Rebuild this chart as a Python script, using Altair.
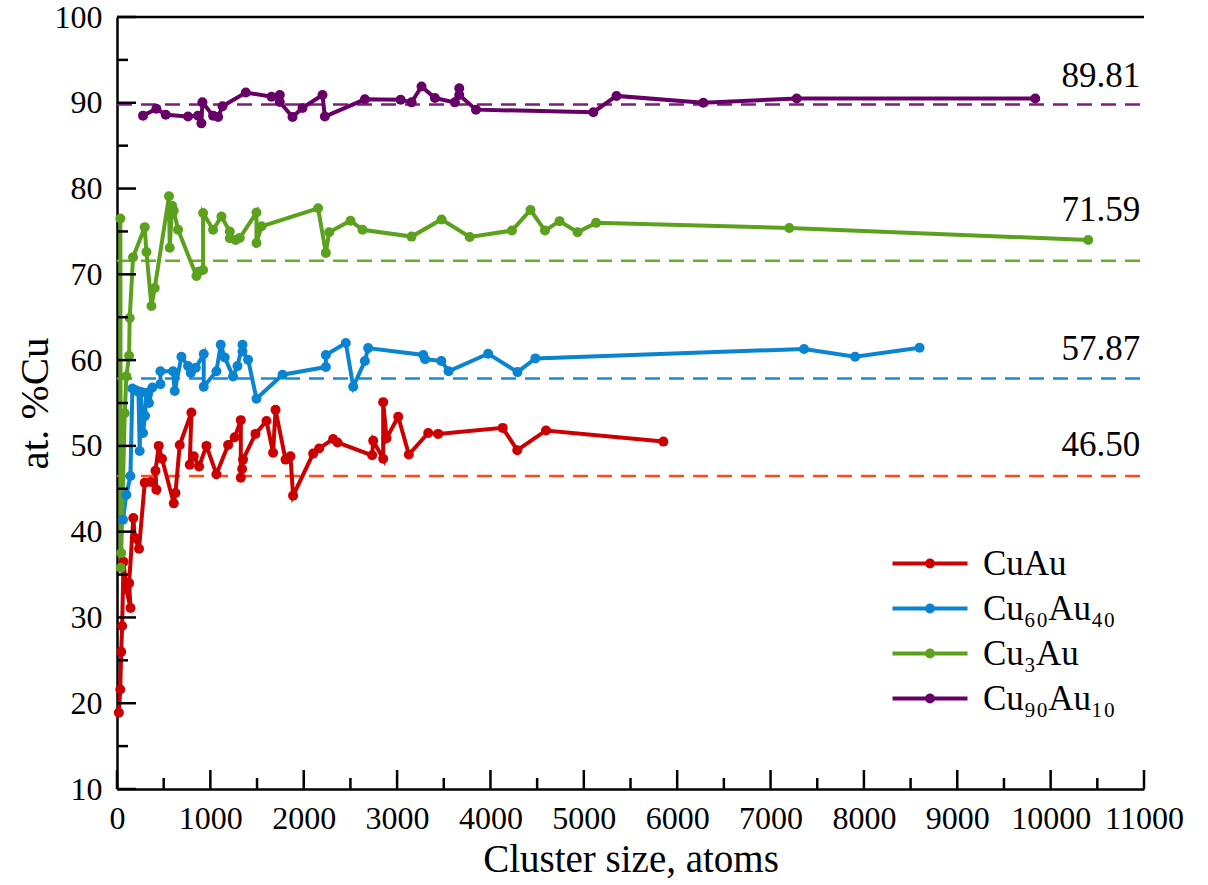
import altair as alt
import pandas as pd

W, H = 1027, 772
FONT = "Liberation Serif"

series_names = ["CuAu", "Cu₆₀Au₄₀", "Cu₃Au", "Cu₉₀Au₁₀"]
colors = ["#cc0000", "#0a84d0", "#5ba11e", "#660066"]
dash_colors = ["#ff4a1a", "#1a8ad6", "#66ad28", "#7a1f7a"]
mean_values = [46.50, 57.87, 71.59, 89.81]
mean_labels = ["46.50", "57.87", "71.59", "89.81"]
label_shift = [-31, -29, -51, -28]

cuau_x = [20, 35, 45, 55, 70, 100, 145, 130, 175, 190, 236, 297, 361, 422, 412,
          447, 482, 608, 626, 672, 797, 779, 822, 879, 958, 1065, 1190, 1261, 1326,
          1326, 1340, 1350, 1483, 1601, 1672, 1698, 1805, 1858, 1886, 2101, 2165,
          2315, 2362, 2733, 2744, 2851, 2851, 2887, 3012, 3126, 3333, 3440, 4131,
          4287, 4595, 5852]
cuau_y = [18.9, 21.6, 26.0, 29.0, 36.5, 33.3, 31.1, 34.0, 41.6, 39.3, 38.0, 45.7,
          45.8, 44.9, 47.1, 50.0, 48.5, 43.3, 44.5, 50.1, 53.9, 47.8, 48.8, 47.6,
          50.0, 46.7, 50.1, 51.0, 53.0, 46.3, 47.3, 48.4, 51.4, 52.9, 49.2, 54.2,
          48.4, 48.8, 44.2, 49.1, 49.7, 50.8, 50.4, 48.9, 50.6, 48.5, 55.1, 50.9,
          53.4, 49.0, 51.5, 51.4, 52.1, 49.5, 51.8, 50.5]

cu60_x = [64, 100, 144, 165, 200, 230, 243, 255, 279, 300, 315, 343, 379, 465, 465,
          600, 618, 690, 761, 790, 844, 929, 929, 1065, 1111, 1154, 1243, 1290, 1344,
          1344, 1404, 1494, 1773, 2237, 2237, 2451, 2530, 2655, 2690, 3280, 3300,
          3474, 3551, 3975, 4289, 4481, 7359, 7906, 8596]
cu60_y = [41.4, 44.3, 46.5, 56.7, 56.5, 56.3, 49.4, 56.3, 51.5, 53.5, 56.2, 55.0,
          56.8, 57.2, 58.7, 58.7, 56.4, 60.4, 59.3, 58.5, 59.1, 60.7, 56.9, 58.7,
          61.8, 60.3, 58.1, 59.3, 61.8, 61.0, 60.05, 55.5, 58.3, 59.2, 60.6, 62.0,
          56.9, 59.9, 61.4, 60.6, 60.1, 59.9, 58.7, 60.75, 58.6, 60.2, 61.3, 60.4,
          61.45]

cu3_x = [36, 40, 45, 83, 100, 129, 136, 172, 297, 315, 369, 404, 557, 565, 590, 608,
         654, 851, 870, 922, 922, 1029, 1119, 1208, 1208, 1272, 1315, 1494, 1494,
         1548, 2154, 2237, 2272, 2501, 2630, 3155, 3476, 3778, 4230, 4429, 4584,
         4740, 4933, 5131, 7201, 10402]
cu3_y = [76.5, 35.8, 37.5, 53.8, 58.1, 60.5, 64.9, 72.0, 75.5, 72.6, 66.3, 68.4,
         79.1, 73.1, 78.0, 77.4, 75.2, 69.8, 70.3, 70.5, 77.15, 75.2, 76.75, 75.0,
         74.2, 74.0, 74.25, 77.2, 73.65, 75.6, 77.7, 72.5, 74.9, 76.25, 75.2, 74.4,
         76.4, 74.35, 75.1, 77.5, 75.1, 76.2, 74.9, 76.0, 75.4, 74.0]

cu90_x = [279, 422, 522, 761, 868, 904, 915, 1029, 1083, 1130, 1380, 1655, 1744,
          1744, 1880, 1987, 2201, 2226, 2655, 3038, 3155, 3262, 3405, 3619, 3666,
          3666, 3845, 5102, 5350, 6280, 7280, 9835]
cu90_y = [88.5, 89.3, 88.6, 88.4, 88.5, 87.6, 90.05, 88.5, 88.35, 89.6, 91.2, 90.7,
          90.9, 90.1, 88.35, 89.4, 90.9, 88.4, 90.4, 90.35, 90.05, 91.9, 90.55,
          90.05, 91.7, 90.9, 89.2, 88.9, 90.8, 90.0, 90.5, 90.5]

x_major = list(range(0, 11001, 1000))
x_minor = list(range(500, 11000, 1000))
y_major = list(range(10, 101, 10))
y_minor = list(range(15, 100, 10))

rows = []
idx = 0
for name, xs_, ys_ in zip(series_names, [cuau_x, cu60_x, cu3_x, cu90_x],
                          [cuau_y, cu60_y, cu3_y, cu90_y]):
    for xv, yv in zip(xs_, ys_):
        rows.append({"series": name, "x": xv, "y": yv, "idx": idx})
        idx += 1
df = pd.DataFrame(rows)

means_df = pd.DataFrame({"series": series_names, "v": mean_values,
                         "c": dash_colors, "label": mean_labels})

xs = alt.Scale(domain=[0, 11000], nice=False, zero=False)
ys = alt.Scale(domain=[10, 100], nice=False, zero=False)

x_axis = alt.Axis(values=x_major, format="d", title="Cluster size, atoms",
                  ticks=False, tickSize=0,
                  grid=False, domainColor="black", domainWidth=2.5,
                  labelFont=FONT, labelFontSize=32, labelColor="black",
                  labelPadding=14, labelFlush=False, labelOverlap=False,
                  titleFont=FONT, titleFontSize=39, titleFontWeight="normal",
                  titleColor="black", titleBaseline="alphabetic", titleY=82)
y_axis = alt.Axis(values=y_major, format="d", title="at. %Cu", ticks=False,
                  tickSize=0,
                  grid=False, domainColor="black", domainWidth=2.5,
                  labelFont=FONT, labelFontSize=32, labelColor="black",
                  labelPadding=15, labelFlush=False, labelOverlap=False,
                  titleFont=FONT, titleFontSize=41, titleFontWeight="normal",
                  titleColor="black", titleBaseline="alphabetic", titleX=-70)

# legend symbol: a line with a dot in the middle
sym_path = ("M-1,-0.14L4,-0.14L4,0.14L-1,0.14Z"
            "M1.17,0A0.33,0.33 0 1,1 1.83,0A0.33,0.33 0 1,1 1.17,0Z")

lines = alt.Chart(df).mark_line(strokeWidth=4).encode(
    x=alt.X("x:Q", scale=xs, axis=x_axis),
    y=alt.Y("y:Q", scale=ys, axis=y_axis),
    stroke=alt.Stroke("series:N", scale=alt.Scale(domain=series_names, range=colors),
                      legend=None),
    order=alt.Order("idx:Q"),
)

points = alt.Chart(df).mark_circle(size=100, opacity=1).encode(
    x=alt.X("x:Q", scale=xs),
    y=alt.Y("y:Q", scale=ys),
    color=alt.Color("series:N", scale=alt.Scale(domain=series_names, range=colors),
                    legend=alt.Legend(orient="none", legendX=773, legendY=529,
                                      title=None, symbolType=sym_path,
                                      symbolSize=900, symbolStrokeWidth=0,
                                      symbolOpacity=1,
                                      labelFont=FONT, labelFontSize=35,
                                      labelColor="black", labelOffset=58,
                                      rowPadding=9, padding=0)),
)

dashes = alt.Chart(means_df).mark_rule(strokeDash=[15, 9], strokeWidth=2.5).encode(
    y=alt.Y("v:Q", scale=ys),
    x=alt.value(0),
    x2=alt.value(W),
    stroke=alt.Stroke("c:N", scale=None, legend=None),
)

texts = []
for lab, v, sh in zip(mean_labels, mean_values, label_shift):
    tdf = pd.DataFrame({"v": [v], "label": [lab]})
    texts.append(
        alt.Chart(tdf).mark_text(font=FONT, fontSize=35, align="right",
                                 baseline="middle", dy=sh, color="black").encode(
            x=alt.datum(10960), y=alt.Y("v:Q", scale=ys), text="label:N")
    )

def tick_layer(vals, orient, length):
    tdf = pd.DataFrame({"t": vals})
    if orient == "y":
        return alt.Chart(tdf).mark_rule(color="black", strokeWidth=2.5).encode(
            y=alt.Y("t:Q", scale=ys), x=alt.value(0), x2=alt.value(length))
    return alt.Chart(tdf).mark_rule(color="black", strokeWidth=2.5).encode(
        x=alt.X("t:Q", scale=xs), y=alt.value(H), y2=alt.value(H - length))

top_line = alt.Chart(pd.DataFrame({"t": [100]})).mark_rule(
    color="black", strokeWidth=2.5).encode(
    y=alt.value(0), x=alt.value(0), x2=alt.value(W))

chart = alt.layer(
    dashes, lines, points, *texts,
    tick_layer(y_major, "y", 19), tick_layer(y_minor, "y", 11),
    tick_layer(x_major, "x", 19), tick_layer(x_minor, "x", 11),
    top_line,
).resolve_scale(stroke="independent").properties(
    width=W, height=H,
    padding={"left": 117, "top": 17, "right": 64, "bottom": 96},
    autosize=alt.AutoSizeParams(type="none"),
    background="white",
).configure_view(stroke=None)

chart.save("out.html", embed_options={"renderer": "svg", "actions": False})
